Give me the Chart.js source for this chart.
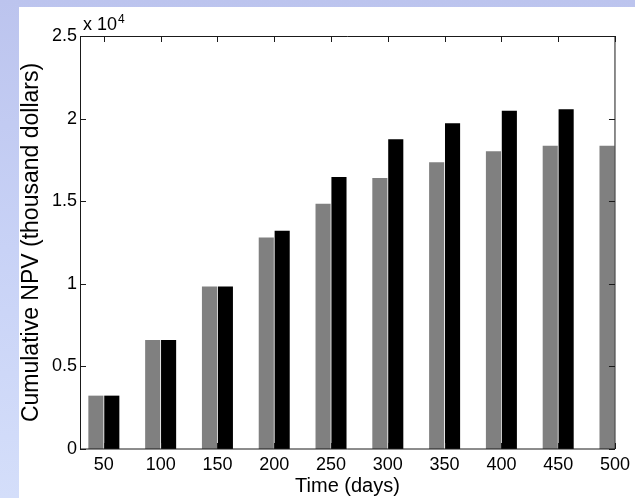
<!DOCTYPE html>
<html>
<head>
<meta charset="utf-8">
<script src="https://cdn.jsdelivr.net/npm/chart.js@4"></script>
<style>
  html, body { margin: 0; padding: 0; }
  body {
    width: 635px; height: 498px; overflow: hidden; position: relative;
    background: linear-gradient(180deg, #bcc4ee 0%, #c8d2f6 50%, #d4defa 100%);
  }
  #panel { position: absolute; left: 19px; top: 7px; width: 616px; height: 491px; background: #ffffff; }
  canvas { display: block; }
</style>
</head>
<body>
<div id="panel"><canvas id="c" width="616" height="491"></canvas></div>
<script>
// ---- data ----
const timeDays = [50, 100, 150, 200, 250, 300, 350, 400, 450, 500];
const greySeries = [3230, 6600, 9840, 12800, 14840, 16400, 17360, 18030, 18350, 18350];
const blackSeries = [3230, 6600, 9840, 13210, 16460, 18750, 19720, 20470, 20570, null];
const xTickValues = [50, 100, 150, 200, 250, 300, 350, 400, 450, 500];
const xTickLabels = ['50', '100', '150', '200', '250', '300', '350', '400', '450', '500'];
const yTickValues = [0, 5000, 10000, 15000, 20000, 25000];
const yTickLabels = ['0', '0.5', '1', '1.5', '2', '2.5'];
const xTitle = 'Time (days)';
const yTitle = 'Cumulative NPV (thousand dollars)';
const exponentBase = 'x 10';
const exponentPower = '4';

const FONT = "'Liberation Sans', Arial, Helvetica, sans-serif";

const framePlugin = {
  id: 'frame',
  afterDatasetsDraw(chart) {
    const { ctx, chartArea: { left, right, top, bottom }, scales: { x, y } } = chart;
    ctx.save();
    ctx.strokeStyle = '#1a1a1a';
    ctx.lineWidth = 1;
    ctx.beginPath();
    ctx.rect(left + 0.5, top + 0.5, right - left - 0.5, bottom - top - 0.5);
    ctx.stroke();
    const tl = 6;
    ctx.beginPath();
    xTickValues.forEach(v => {
      const px = Math.round(x.getPixelForValue(v)) + 0.5;
      ctx.moveTo(px, top); ctx.lineTo(px, top + tl);
      ctx.moveTo(px, bottom); ctx.lineTo(px, bottom - tl);
    });
    yTickValues.forEach(v => {
      const py = Math.round(y.getPixelForValue(v)) + 0.5;
      ctx.moveTo(left, py); ctx.lineTo(left + tl, py);
      ctx.moveTo(right, py); ctx.lineTo(right - tl, py);
    });
    ctx.stroke();
    // exponent label
    ctx.fillStyle = '#000';
    ctx.textBaseline = 'alphabetic';
    ctx.textAlign = 'left';
    ctx.font = '18px ' + FONT;
    const ex = left + 3;
    const ey = top - 6;
    ctx.fillText(exponentBase, ex, ey);
    const w = ctx.measureText(exponentBase).width;
    ctx.font = '12px ' + FONT;
    ctx.fillText(exponentPower, ex + w + 1, ey - 7);
    ctx.restore();
  }
};

new Chart(document.getElementById('c'), {
  type: 'bar',
  data: {
    datasets: [
      {
        label: 'Grey',
        data: timeDays.map((t, i) => ({ x: t, y: greySeries[i] })),
        backgroundColor: '#808080',
        borderWidth: 0,
        categoryPercentage: 0.56,
        barPercentage: 0.95
      },
      {
        label: 'Black',
        data: timeDays.map((t, i) => ({ x: t, y: blackSeries[i] })),
        backgroundColor: '#000000',
        borderWidth: 0,
        categoryPercentage: 0.56,
        barPercentage: 0.95
      }
    ]
  },
  options: {
    responsive: false,
    animation: false,
    events: [],
    layout: { padding: { left: 0, top: 29, right: 14, bottom: 0 } },
    plugins: { legend: { display: false }, tooltip: { enabled: false } },
    scales: {
      x: {
        type: 'linear',
        min: 29,
        max: 500,
        offset: false,
        grid: { display: false, drawTicks: false, offset: false },
        border: { display: false },
        afterBuildTicks: (s) => { s.ticks = xTickValues.map(v => ({ value: v })); },
        afterFit: (s) => { s.height = 49; },
        ticks: {
          autoSkip: false, maxRotation: 0, padding: 5,
          color: '#000',
          font: { family: FONT, size: 18 },
          callback: (v, i) => xTickLabels[i]
        },
        title: {
          display: true, text: xTitle, color: '#000',
          font: { family: FONT, size: 20, lineHeight: 1 },
          padding: { top: 0, bottom: 2 }
        }
      },
      y: {
        type: 'linear',
        min: 0,
        max: 25000,
        grid: { display: false, drawTicks: false },
        border: { display: false },
        afterBuildTicks: (s) => { s.ticks = yTickValues.map(v => ({ value: v })); },
        afterFit: (s) => { s.width = 61; },
        ticks: {
          padding: 3,
          color: '#000',
          font: { family: FONT, size: 18 },
          callback: (v, i) => yTickLabels[i]
        },
        title: {
          display: true, text: yTitle, color: '#000',
          font: { family: FONT, size: 23, lineHeight: 1 },
          padding: { top: 1, bottom: 0 }
        }
      }
    }
  },
  plugins: [framePlugin]
});
</script>
</body>
</html>
